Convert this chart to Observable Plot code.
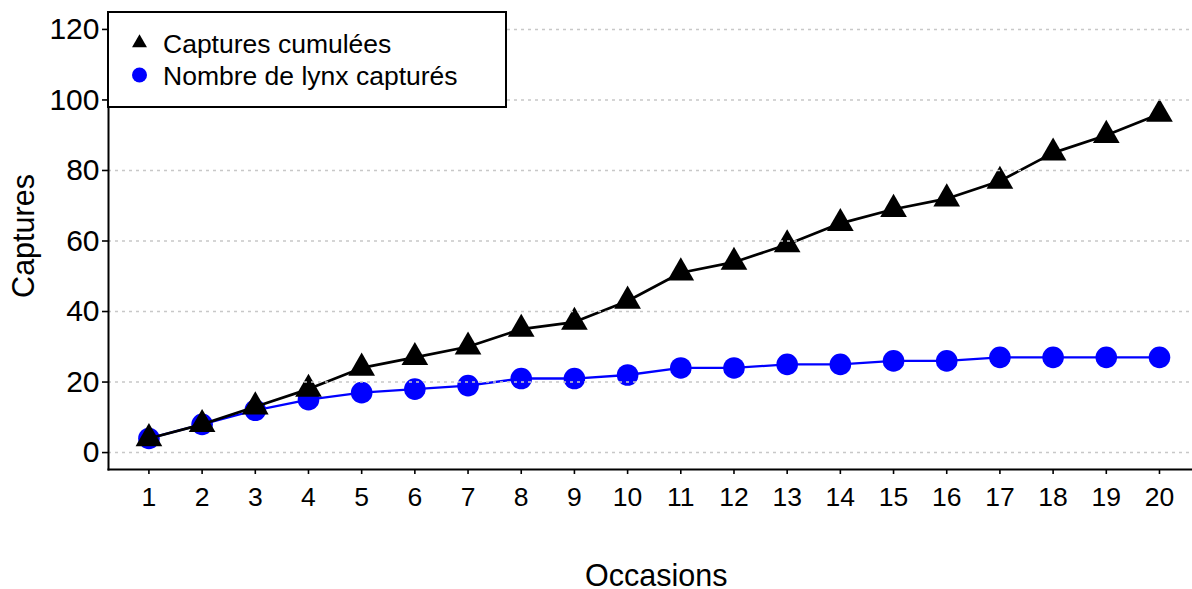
<!DOCTYPE html>
<html>
<head>
<meta charset="utf-8">
<script src="https://cdn.jsdelivr.net/npm/d3@7"></script>
<script src="https://cdn.jsdelivr.net/npm/@observablehq/plot@0.6"></script>
<style>
  body { margin: 0; background: #fff; }
  #chart svg { display: block; }
</style>
</head>
<body>
<div id="chart"></div>
<script>
// ---- data ----
const occasions = [1, 2, 3, 4, 5, 6, 7, 8, 9, 10, 11, 12, 13, 14, 15, 16, 17, 18, 19, 20];
const capturesCumulees = [4, 8, 13, 18, 24, 27, 30, 35, 37, 43, 51, 54, 59, 65, 69, 72, 77, 85, 90, 96];
const lynxCaptures = [4, 8, 12, 15, 17, 18, 19, 21, 21, 22, 24, 24, 25, 25, 26, 26, 27, 27, 27, 27];
const yTicks = [0, 20, 40, 60, 80, 100, 120];
const xTicks = occasions;
const seriesNames = ["Captures cumulées", "Nombre de lynx capturés"];
const xTitle = "Occasions";
const yTitle = "Captures";

const cumData = occasions.map((o, i) => ({ o, v: capturesCumulees[i] }));
const lynxData = occasions.map((o, i) => ({ o, v: lynxCaptures[i] }));

const FONT = "'Liberation Sans', Arial, Helvetica, sans-serif";

const chart = Plot.plot({
  width: 1192,
  height: 589,
  marginLeft: 108,
  marginTop: 12,
  marginBottom: 120,
  marginRight: -7.4,
  style: { fontFamily: FONT, background: "#fff", color: "#000", overflow: "visible" },
  x: { domain: [0.24, 20.76] },
  y: { domain: [-4.8, 124.8] },
  marks: [
    Plot.line(lynxData, { x: "o", y: "v", stroke: "#0000ff", strokeWidth: 2.3 }),
    Plot.dot(lynxData, { x: "o", y: "v", r: 10.8, fill: "#0000ff", stroke: null }),
    Plot.line(cumData, { x: "o", y: "v", stroke: "#000", strokeWidth: 2.7 }),
    Plot.dot(cumData, { x: "o", y: "v", symbol: "triangle", r: 9.9, fill: "#000", stroke: null }),
    Plot.gridY(yTicks, { stroke: "#c8c8c8", strokeOpacity: 1, strokeWidth: 1.4, strokeDasharray: "3,4" }),
    Plot.frame({ anchor: "left", stroke: "#000", strokeWidth: 2 }),
    Plot.frame({ anchor: "bottom", stroke: "#000", strokeWidth: 2 }),
    Plot.axisY(yTicks, { tickSize: 6, tickPadding: 3, fontSize: 30, label: null, stroke: "#000", strokeWidth: 1.6, fill: "#000" }),
    Plot.axisX(xTicks, { tickSize: 5, tickPadding: 13, fontSize: 26.5, label: null, stroke: "#000", strokeWidth: 1.6, fill: "#000" }),
    Plot.text([yTitle], { frameAnchor: "left", textAnchor: "middle", lineAnchor: "middle", rotate: -90, dx: -84, dy: -5, fontSize: 30.5, fill: "#000" }),
    Plot.text([xTitle], { frameAnchor: "bottom", textAnchor: "middle", lineAnchor: "middle", dx: 2, dy: 107, fontSize: 30.5, fill: "#000" })
  ]
});

document.getElementById("chart").appendChild(chart);

// ---- legend (drawn over the grid, as in the reference) ----
const svg = d3.select(chart);
const lg = svg.append("g").attr("font-family", FONT).attr("text-anchor", "start");
lg.append("rect")
  .attr("x", 108).attr("y", 12).attr("width", 398).attr("height", 95)
  .attr("fill", "#fff").attr("stroke", "#000").attr("stroke-width", 2);
lg.append("path")
  .attr("d", d3.symbol(d3.symbolTriangle, 97)())
  .attr("transform", "translate(139.5,43)")
  .attr("fill", "#000");
lg.append("circle")
  .attr("cx", 139.5).attr("cy", 75).attr("r", 7.5)
  .attr("fill", "#0000ff");
lg.append("text").attr("x", 163).attr("y", 53).attr("text-anchor", "start")
  .attr("font-size", 26.5).attr("fill", "#000").text(seriesNames[0]);
lg.append("text").attr("x", 163).attr("y", 85).attr("text-anchor", "start")
  .attr("font-size", 26.5).attr("fill", "#000").text(seriesNames[1]);
</script>
</body>
</html>
